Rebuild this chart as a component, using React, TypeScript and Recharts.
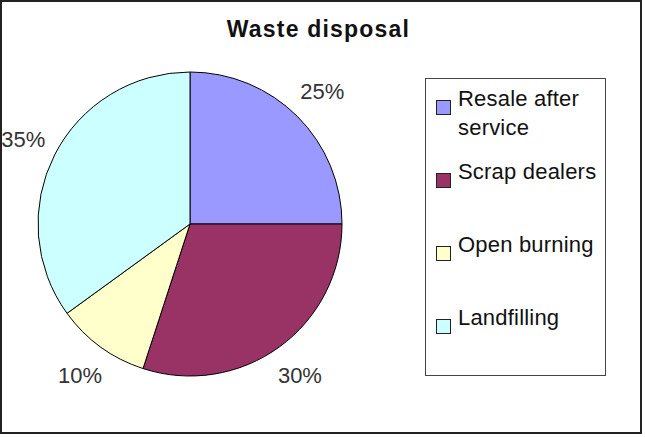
import React from "react";
import { PieChart, Pie, Cell, Legend } from "recharts";

// Waste disposal shares (%)
const categories = ["Resale after service", "Scrap dealers", "Open burning", "Landfilling"];
const shares = [25, 30, 10, 35];
const sliceColors = ["#9999FF", "#993366", "#FFFFCC", "#CCFFFF"];

const data = categories.map((name, i) => ({ name, value: shares[i] }));

const FONT = "'Liberation Sans', Arial, sans-serif";
const RAD = Math.PI / 180;

const renderLabel = (props: any) => {
  const { cx, cy, midAngle, outerRadius, value } = props;
  const r = outerRadius + 35;
  const x = cx + r * Math.cos(-midAngle * RAD);
  const y = cy + r * Math.sin(-midAngle * RAD);
  return (
    <text
      x={x}
      y={y}
      textAnchor="middle"
      dominantBaseline="central"
      fill="#333"
      fontSize={22}
      fontFamily={FONT}
    >
      {`${value}%`}
    </text>
  );
};

const renderLegend = (props: any) => {
  // keep the legend in data order (recharts sorts the payload by default)
  const items = [...(props.payload || [])].sort(
    (a: any, b: any) => categories.indexOf(a.value) - categories.indexOf(b.value)
  );
  return (
    <div
      style={{
        boxSizing: "border-box",
        width: 181,
        height: 298,
        border: "1px solid #444",
        padding: "5px 0 0 10px",
        background: "#fff",
        fontFamily: FONT,
      }}
    >
      {items.map((entry: any, i: number) => (
        <div key={`leg-${i}`} style={{ display: "flex", alignItems: "flex-start", height: 73 }}>
          <span
            style={{
              display: "inline-block",
              width: 13,
              height: 13,
              marginTop: 16,
              border: "1px solid #222",
              background: entry.color,
              flexShrink: 0,
            }}
          />
          <span
            style={{
              marginLeft: 7,
              width: 147,
              fontSize: 22,
              lineHeight: "29px",
              letterSpacing: 0.2,
              color: "#111",
            }}
          >
            {entry.value}
          </span>
        </div>
      ))}
    </div>
  );
};

export default function App() {
  return (
    <div style={{ position: "absolute", left: 0, top: 0, width: 645, height: 437, background: "#fff" }}>
      <div
        style={{
          position: "absolute",
          left: 0,
          top: 0,
          width: 642,
          height: 434,
          boxSizing: "border-box",
          border: "2px solid #222",
        }}
      />
      <div
        style={{
          position: "absolute",
          left: 0,
          top: 18,
          width: 637,
          textAlign: "center",
          fontFamily: FONT,
          fontWeight: "bold",
          fontSize: 23,
          lineHeight: "23px",
          letterSpacing: 1.2,
          color: "#111",
        }}
      >
        Waste disposal
      </div>
      <PieChart width={645} height={437} margin={{ top: 0, right: 0, bottom: 0, left: 0 }}>
        <Pie
          data={data}
          dataKey="value"
          nameKey="name"
          cx={190}
          cy={224}
          outerRadius={152}
          startAngle={90}
          endAngle={-270}
          stroke="#000"
          strokeWidth={1}
          label={renderLabel}
          labelLine={false}
          isAnimationActive={false}
        >
          {data.map((_, i) => (
            <Cell key={`cell-${i}`} fill={sliceColors[i]} />
          ))}
        </Pie>
        <Legend
          layout="vertical"
          align="right"
          verticalAlign="top"
          content={renderLegend}
          wrapperStyle={{ position: "absolute", left: 425, top: 78, width: 181, height: 298, right: "auto", bottom: "auto" }}
        />
      </PieChart>
    </div>
  );
}
